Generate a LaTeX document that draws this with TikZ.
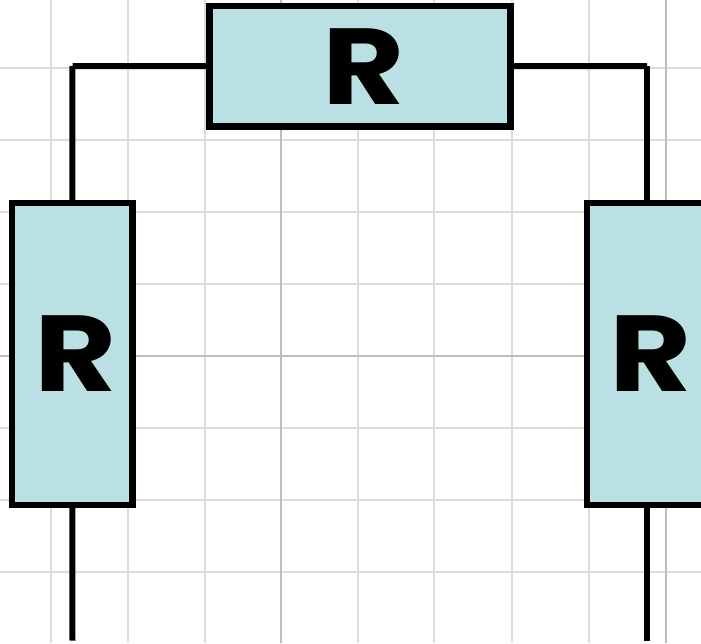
\documentclass[tikz,border=0pt]{standalone}
\usepackage{fontspec}
\newfontfamily\labelfont[FakeStretch=1.17]{Poppins}
\definecolor{boxfill}{HTML}{BBE0E3}
\definecolor{gridlight}{HTML}{DCDCDC}
\definecolor{griddark}{HTML}{BDBDBD}
\newcommand{\rlabel}{\hspace*{7pt}R}
\tikzset{
  resistor/.style={draw=black,fill=boxfill,line width=6.4pt,outer sep=0pt,inner sep=0pt,
    font=\fontsize{108}{108}\labelfont\bfseries},
  wire/.style={draw=black,line width=6pt},
  gridminor/.style={draw=gridlight,line width=1.5pt},
  gridmajor/.style={draw=griddark,line width=1.5pt}
}
\begin{document}
\begin{tikzpicture}[x=1pt,y=-1pt]
      \useasboundingbox (0,0) rectangle (701,643);
      \clip (0,0) rectangle (701,643);
      \foreach \x in {51,128,205,358,434,512,589}
        \draw[gridminor] (\x,0) -- (\x,643);
      \foreach \y in {68,140,212,284,428,500,572}
        \draw[gridminor] (0,\y) -- (701,\y);
      \foreach \x in {281,666}
        \draw[gridmajor] (\x,0) -- (\x,643);
      \draw[gridmajor] (0,356) -- (701,356);
      \node[resistor,minimum width=301pt,minimum height=120.3pt] (rtop) at (360,66.15) {\rlabel};
      \node[resistor,minimum width=120.5pt,minimum height=302pt] (rleft) at (72.25,354) {\rlabel};
      \node[resistor,minimum width=120.5pt,minimum height=302pt] (rright) at (647,354) {\rlabel};
      \coordinate (cornerleft) at (72.5,66);
      \coordinate (cornerright) at (647,66);
      \coordinate (endleft) at (72.5,640.5);
      \coordinate (endright) at (647,640.5);
      \draw[wire] (rtop.west) to (cornerleft);
      \draw[wire] (cornerleft) to (rleft.north);
      \draw[wire] (rtop.east) to (cornerright);
      \draw[wire] (cornerright) to (rright.north);
      \draw[wire] (rleft.south) to (endleft);
      \draw[wire] (rright.south) to (endright);
    \end{tikzpicture}
\end{document}
